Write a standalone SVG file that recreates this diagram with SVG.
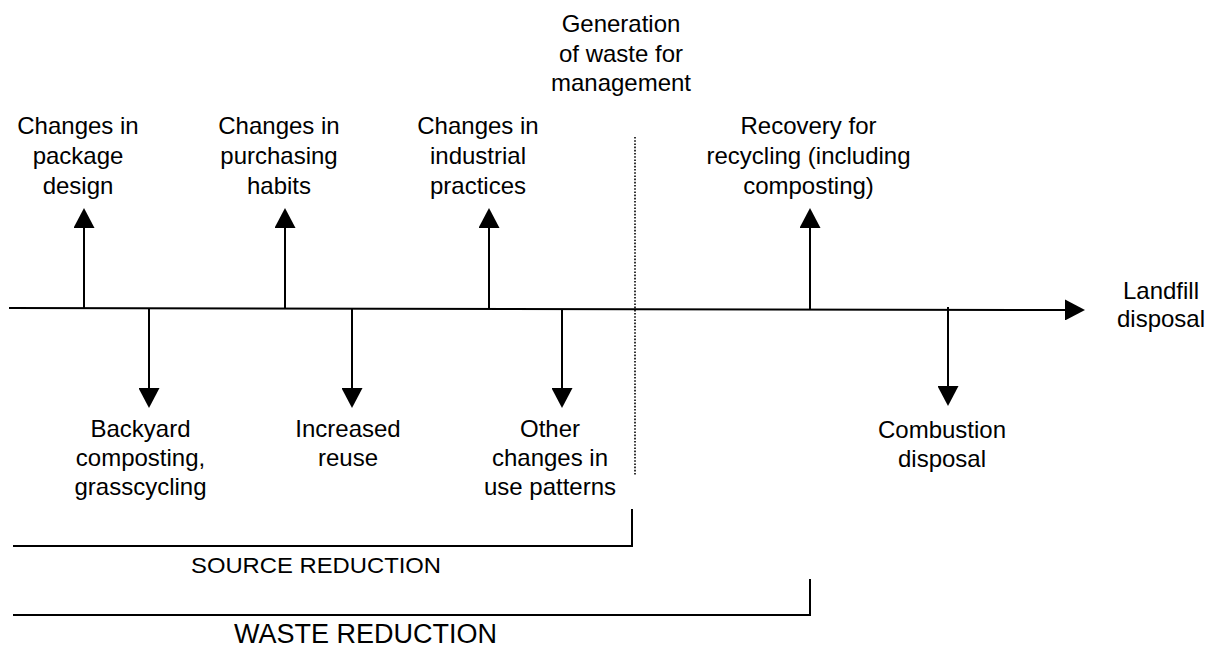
<svg xmlns="http://www.w3.org/2000/svg" width="1217" height="649" viewBox="0 0 1217 649">
<style>
  text { font-family: "Liberation Sans", Arial, sans-serif; font-size: 24px; fill: #000; text-anchor: middle; }
  .ln { stroke: #000; stroke-width: 2; fill: none; }
  .arr { stroke: #000; stroke-width: 2; fill: none; marker-end: url(#head); }
  .dot { stroke: #000; stroke-width: 1.6; stroke-dasharray: 1.6 1.6; fill: none; }
</style>
<defs>
  <marker id="head" viewBox="0 0 20 21" refX="18" refY="10.5" markerWidth="20" markerHeight="21" markerUnits="userSpaceOnUse" orient="auto">
    <path d="M0,0 L20,10.5 L0,21 Z" fill="#000"/>
  </marker>
</defs>
<rect width="1217" height="649" fill="#fff"/>

<g id="connectors">
  <line class="arr" x1="9" y1="308" x2="1083" y2="310"/>
  <line class="arr" x1="84" y1="308" x2="84" y2="210"/>
  <line class="arr" x1="285" y1="308" x2="285" y2="210"/>
  <line class="arr" x1="489" y1="309" x2="489" y2="210"/>
  <line class="arr" x1="810" y1="309" x2="810" y2="210"/>
  <line class="arr" x1="149" y1="308" x2="149" y2="406"/>
  <line class="arr" x1="352" y1="308" x2="352" y2="406"/>
  <line class="arr" x1="562" y1="309" x2="562" y2="406"/>
  <line class="arr" x1="948" y1="307" x2="948" y2="404"/>
  <line class="dot" x1="635" y1="137" x2="635" y2="475"/>
</g>

<g id="generation">
  <text x="621" y="32">Generation</text>
  <text x="621" y="61.5">of waste for</text>
  <text x="621" y="91">management</text>
</g>
<g id="package">
  <text x="78" y="134">Changes in</text>
  <text x="78" y="164">package</text>
  <text x="78" y="194">design</text>
</g>
<g id="purchasing">
  <text x="279" y="134">Changes in</text>
  <text x="279" y="164">purchasing</text>
  <text x="279" y="194">habits</text>
</g>
<g id="industrial">
  <text x="478" y="134">Changes in</text>
  <text x="478" y="164">industrial</text>
  <text x="478" y="194">practices</text>
</g>
<g id="recovery">
  <text x="808.5" y="134">Recovery for</text>
  <text x="808.5" y="164">recycling (including</text>
  <text x="808.5" y="194">composting)</text>
</g>
<g id="landfill">
  <text x="1161" y="298.5">Landfill</text>
  <text x="1161" y="327">disposal</text>
</g>
<g id="backyard">
  <text x="140.5" y="437">Backyard</text>
  <text x="140.5" y="466">composting,</text>
  <text x="140.5" y="495">grasscycling</text>
</g>
<g id="reuse">
  <text x="348" y="437">Increased</text>
  <text x="348" y="466">reuse</text>
</g>
<g id="other">
  <text x="550" y="437">Other</text>
  <text x="550" y="466">changes in</text>
  <text x="550" y="495">use patterns</text>
</g>
<g id="combustion">
  <text x="942" y="438">Combustion</text>
  <text x="942" y="467">disposal</text>
</g>
<g id="source-reduction">
  <path class="ln" d="M13,546 H633 M632,509 V546"/>
  <text x="191" y="573" style="text-anchor:start;font-size:22px" textLength="250" lengthAdjust="spacingAndGlyphs">SOURCE REDUCTION</text>
</g>
<g id="waste-reduction">
  <path class="ln" d="M13,615 H811 M810,579 V615"/>
  <text x="234" y="643" style="text-anchor:start;font-size:27px">WASTE REDUCTION</text>
</g>
</svg>
